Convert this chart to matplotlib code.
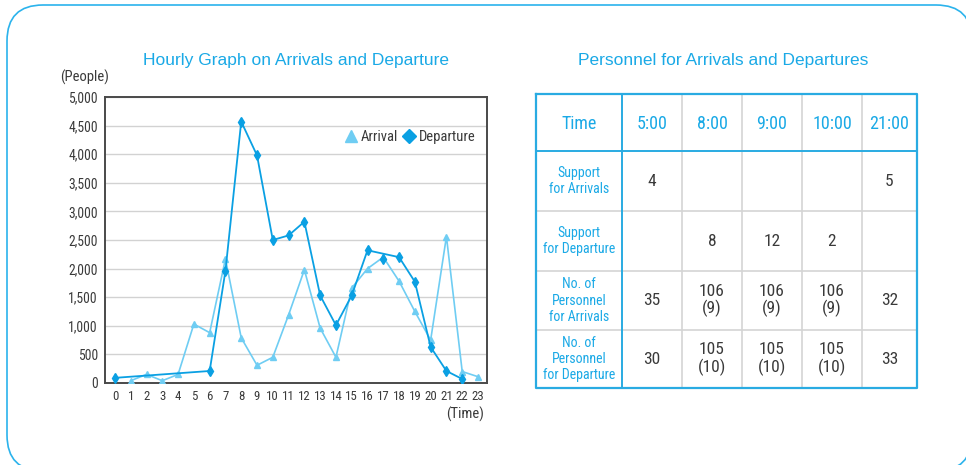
import matplotlib
matplotlib.use('Agg')
import matplotlib.pyplot as plt
from matplotlib.patches import FancyBboxPatch
from matplotlib.lines import Line2D
from matplotlib.ticker import FuncFormatter

# data
arr_hours = [1, 2, 3, 4, 5, 6, 7, 8, 9, 10, 11, 12, 13, 14, 15, 16, 17, 18, 19, 20, 21, 22, 23]
arr_vals = [40, 150, 40, 150, 1030, 880, 2170, 790, 310, 450, 1190, 1980, 960, 450, 1660, 2000, 2200, 1780, 1250, 750, 2560, 200, 110]
dep_hours = [0, 6, 7, 8, 9, 10, 11, 12, 13, 14, 15, 16, 17, 18, 19, 20, 21, 22]
dep_vals = [90, 210, 1960, 4570, 3980, 2500, 2580, 2820, 1530, 1010, 1530, 2320, 2160, 2200, 1770, 630, 210, 70]
dep_line_skip = [17]   # marker drawn but line passes straight over it

col_heads = ['Time', '5:00', '8:00', '9:00', '10:00', '21:00']
row_heads = ['Support\nfor Arrivals', 'Support\nfor Departure',
             'No. of\nPersonnel\nfor Arrivals', 'No. of\nPersonnel\nfor Departure']
support_arr = ['4', '', '', '', '5']
support_dep = ['', '8', '12', '2', '']
pers_arr = ['35', '106\n(9)', '106\n(9)', '106\n(9)', '32']
pers_dep = ['30', '105\n(10)', '105\n(10)', '105\n(10)', '33']

blue = '#1aa9e6'
light = '#6fcdf3'
dark = '#0aa0e3'
grey_txt = '#3a3a3a'
narrow = ['Roboto Condensed', 'DejaVu Sans']
sans = ['Liberation Sans', 'DejaVu Sans']

fig = plt.figure(figsize=(9.66, 4.65), dpi=100)

# background layer in pixel coordinates
bg = fig.add_axes([0, 0, 1, 1])
bg.set_xlim(0, 966)
bg.set_ylim(465, 0)
bg.axis('off')
# filled (white) so agg does not clip the rounded corners into straight lines
bg.add_patch(FancyBboxPatch((7, 5), 965, 466, boxstyle='round,pad=0,rounding_size=36',
                            fc='white', ec='#2bb3ec', lw=1.2, zorder=0))

# chart
ax = fig.add_axes([105 / 966, 1 - 383 / 465, 382 / 966, 286 / 465])
ax.set_xlim(-0.63, 23.57)
ax.set_ylim(0, 5000)
ax.set_yticks(range(0, 5001, 500))
ax.set_xticks(range(24))
ax.yaxis.set_major_formatter(FuncFormatter(lambda v, p: '{:,}'.format(int(v))))
ax.grid(axis='y', color='#d2d2d2', lw=1)
ax.set_axisbelow(True)
for s in ax.spines.values():
    s.set_color('#4a4a4a')
    s.set_linewidth(1.4)
ax.tick_params(length=0, labelcolor=grey_txt, pad=5)
for lab in ax.get_yticklabels():
    lab.set_family(narrow)
    lab.set_fontsize(9.8)
for lab in ax.get_xticklabels():
    lab.set_family(narrow)
    lab.set_fontsize(9.3)

ax.plot(arr_hours, arr_vals, color=light, lw=1.2, marker='^', ms=4.5, mec=light, mfc=light, zorder=3)
line_h = [h for h in dep_hours if h not in dep_line_skip]
line_v = [v for h, v in zip(dep_hours, dep_vals) if h not in dep_line_skip]
ax.plot(line_h, line_v, color=dark, lw=1.3, zorder=4)
ax.plot(dep_hours, dep_vals, ls='none', marker='d', ms=5, color=dark, zorder=5)

handles = [Line2D([], [], ls='none', marker='^', ms=8.5, color=light),
           Line2D([], [], ls='none', marker='D', ms=7, color=dark)]
ax.legend(handles, ['Arrival', 'Departure'], loc='center right', bbox_to_anchor=(0.985, 0.86),
          ncol=2, frameon=False, handlelength=0.9, handletextpad=0.2, columnspacing=0.3,
          prop={'family': narrow, 'size': 10.5}, labelcolor=grey_txt, borderaxespad=0)

bg.text(296, 61, 'Hourly Graph on Arrivals and Departure', ha='center', va='center',
        color=blue, fontsize=12.5, family=sans)
bg.text(85, 77, '(People)', ha='center', va='center', color=grey_txt, fontsize=10.5, family=narrow)
bg.text(465, 414, '(Time)', ha='center', va='center', color=grey_txt, fontsize=10.5, family=narrow)

# table
bg.text(723, 61, 'Personnel for Arrivals and Departures', ha='center', va='center',
        color=blue, fontsize=12.5, family=sans)
col_x = [536, 622, 682, 742, 802, 862, 917]
row_y = [94, 151, 211, 271, 330, 388]
tbl_blue = '#29abe2'
for x in col_x[2:-1]:
    bg.plot([x, x], [row_y[0], row_y[-1]], color='#d4d4d4', lw=1.2)
for y in row_y[2:-1]:
    bg.plot([col_x[0], col_x[-1]], [y, y], color='#d4d4d4', lw=1.2)
bg.plot([col_x[0], col_x[-1]], [row_y[1], row_y[1]], color=tbl_blue, lw=1.4)
bg.plot([col_x[1], col_x[1]], [row_y[0], row_y[-1]], color=tbl_blue, lw=1.4)
bg.plot([col_x[0], col_x[-1], col_x[-1], col_x[0], col_x[0]],
        [row_y[0], row_y[0], row_y[-1], row_y[-1], row_y[0]], color=tbl_blue, lw=1.6)

for j, t in enumerate(col_heads):
    bg.text((col_x[j] + col_x[j + 1]) / 2, (row_y[0] + row_y[1]) / 2 + 1, t, ha='center',
            va='center', color=blue, fontsize=13, family=narrow)
body = [support_arr, support_dep, pers_arr, pers_dep]
for i, (head, vals) in enumerate(zip(row_heads, body)):
    yc = (row_y[i + 1] + row_y[i + 2]) / 2
    bg.text((col_x[0] + col_x[1]) / 2, yc, head, ha='center', va='center', color=blue,
            fontsize=10, family=narrow, linespacing=1.2)
    for j, v in enumerate(vals):
        bg.text((col_x[j + 1] + col_x[j + 2]) / 2, yc, v, ha='center', va='center',
                color=grey_txt, fontsize=12.5, family=narrow, linespacing=1.1)

fig.savefig('out.png', dpi=100)
